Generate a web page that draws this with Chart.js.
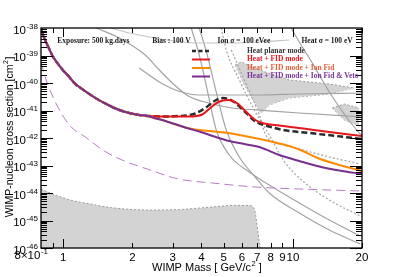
<!DOCTYPE html>
<html>
<head>
<meta charset="utf-8">
<script src="https://cdn.jsdelivr.net/npm/chart.js@4.4.1/dist/chart.umd.min.js"></script>
<style>
  html, body { margin: 0; padding: 0; background: #fff; }
  canvas { display: block; }
</style>
</head>
<body>
<canvas id="limitChart" width="407" height="277"></canvas>
<script>
// ---- data: [WIMP mass (GeV/c^2), cross section (cm^2)] ----
const lowMassBranch = [
  [0.8, 1e-38], [0.818, 5.34e-39], [0.843, 2.97e-39], [0.869, 1.72e-39], [0.896, 1e-39],
  [0.942, 5.34e-40], [1.0, 2.85e-40], [1.062, 1.65e-40], [1.117, 1e-40], [1.234, 5.34e-41],
  [1.392, 2.73e-41], [1.586, 1.52e-41], [1.754, 1.04e-41], [1.939, 8.11e-42], [2.143, 6.86e-42]
];
const heatPlanarHigh = [
  [2.369, 6.31e-42], [2.754, 6.05e-42], [3.201, 6.31e-42], [3.538, 6.86e-42], [3.758, 7.78e-42],
  [4.154, 1.23e-41], [4.592, 2.31e-41], [4.976, 2.85e-41], [5.447, 2.22e-41], [6.022, 1.13e-41],
  [6.657, 4.91e-42], [6.999, 3.66e-42], [7.892, 2.62e-42], [9.084, 1.95e-42], [11.79, 1.52e-42],
  [15.45, 1.18e-42], [20, 9.2e-43]
];
const heatFidHigh = [
  [2.369, 6.31e-42], [2.895, 6.05e-42], [3.538, 6.05e-42], [4.031, 7.16e-42], [4.368, 1.23e-41],
  [4.732, 2.04e-41], [5.232, 2.41e-41], [5.783, 1.72e-41], [6.206, 9.59e-42], [6.860, 4.51e-42],
  [7.506, 3.37e-42], [8.727, 2.85e-42], [11.10, 2.22e-42], [14.41, 1.65e-42], [20, 1.18e-42]
];
const ionFidHigh = [
  [2.275, 6.58e-42], [2.490, 5.34e-42], [2.782, 4.15e-42], [3.400, 2.41e-42], [3.912, 1.95e-42],
  [4.547, 1.72e-42], [5.232, 1.52e-42], [6.144, 1.18e-42], [6.999, 9.59e-43], [8.215, 7.16e-43],
  [9.645, 5.12e-43], [10.66, 3.82e-43], [13.16, 1.72e-43], [15.93, 1.04e-43], [20, 6.31e-44]
];
const vetoHigh = [
  [2.275, 6.58e-42], [2.490, 5.34e-42], [2.782, 4.15e-42], [3.400, 2.41e-42], [4.031, 1.58e-42],
  [4.547, 1.13e-42], [5.284, 7.78e-43], [6.144, 6.05e-43], [7.141, 4.71e-43], [8.727, 2.41e-43],
  [10.66, 1.46e-43], [13.03, 9.2e-44], [15.93, 6.58e-44], [20, 4.91e-44]
];
const projectedDashed = [
  [0.8, 5.34e-40], [0.852, 1e-40], [0.942, 1.46e-41], [1.073, 2.73e-42], [1.247, 1.09e-42],
  [1.509, 3.37e-43], [1.844, 1.46e-43], [2.322, 7.46e-44], [3.169, 3.23e-44], [4.456, 2.31e-44],
  [6.860, 1.65e-44], [10.66, 1.40e-44], [20, 1.18e-44]
];
const lowerRegion = [
  [0.8, 1.40e-44], [0.878, 1e-44], [1.073, 5.56e-45], [1.311, 3.98e-45], [1.602, 2.97e-45],
  [2.322, 2.41e-45], [3.201, 2.51e-45], [4.456, 3.10e-45], [5.613, 3.57e-45], [6.459, 3.51e-45],
  [6.792, 2.62e-45], [6.927, 1.13e-45], [7.07, 2.97e-46], [7.211, 1e-46]
];
const islandTop = [
  [5.613, 4.51e-40], [5.963, 5.81e-40], [7.141, 2.97e-40], [9.645, 1.29e-40], [14.41, 9.2e-41], [18.51, 6.58e-41]
];
const islandBottom = [
  [5.613, 4.51e-40], [6.144, 8.46e-41], [6.792, 2.04e-41], [7.284, 8.11e-42], [7.892, 1.58e-41],
  [9.645, 2.85e-41], [14.41, 3.98e-41], [18.51, 6.58e-41]
];
const cornerTop = [[14.84, 1.23e-41], [16.75, 1.72e-41], [19.46, 1.23e-41]];
const cornerBottom = [[14.84, 1.23e-41], [16.75, 4.51e-42], [19.46, 2.73e-42]];

const otherLimitsSolid = [
  [[1.618, 1e-38], [1.939, 6.58e-39], [2.369, 4.71e-39], [3.043, 3.37e-39], [3.912, 2.85e-39],
   [5.284, 2.85e-39], [7.141, 3.10e-39], [9.645, 3.66e-39]],
  [[1.392, 1e-38], [1.754, 4.33e-39], [2.275, 1.04e-39], [2.619, 2.97e-40], [2.984, 1e-40],
   [3.503, 3.37e-41], [4.281, 1.87e-41], [5.447, 1.23e-41], [7.141, 1.04e-41], [10.66, 8.11e-42], [20, 5.81e-42]],
  [[2.143, 3.51e-40], [2.619, 1.09e-40], [3.169, 5.12e-41], [3.912, 3.66e-41], [6.999, 3.66e-41],
   [10.66, 3.98e-41], [20, 4.33e-41]],
  [[3.610, 1e-38], [3.912, 1.04e-39], [4.238, 5.56e-41], [4.638, 1.95e-42], [5.284, 2.41e-43],
   [6.459, 5.81e-44], [7.892, 1.95e-44], [10.66, 4.33e-45], [14.41, 1.04e-45], [19.66, 2.73e-46]],
  [[3.912, 1e-38], [4.238, 1.04e-39], [4.638, 4.71e-41], [5.128, 1.95e-42], [5.844, 2.04e-43],
   [6.792, 4.15e-44], [7.892, 1e-44], [10.66, 1.87e-45], [14.41, 4.51e-46], [19.66, 1.40e-46]],
  [[9.84, 1e-38], [10.66, 3.10e-39], [11.79, 8.11e-40], [13.03, 1.95e-40], [14.41, 4.71e-41],
   [15.93, 1.34e-41], [17.61, 4.15e-42], [20, 1.18e-42]]
];
const otherLimitsDotted = [
  [[4.877, 1e-38], [5.128, 1.58e-39], [5.844, 1.29e-40], [6.792, 1.04e-41], [7.892, 1.29e-42],
   [9.084, 1.58e-43], [10.66, 3.51e-44], [14.41, 5.56e-45], [19.66, 1.46e-45]],
  [[5.392, 1.58e-39], [6.144, 1.29e-40], [7.141, 6.86e-42], [7.655, 1.18e-42], [9.174, 5.56e-43],
   [10.66, 3.98e-43], [14.41, 2.04e-43], [19.66, 1.13e-43]]
];

const yTickExponents = [-38, -39, -40, -41, -42, -43, -44, -45, -46];
const xTickLabels = [[1, '1'], [2, '2'], [3, '3'], [4, '4'], [5, '5'], [6, '6'], [7, '7'],
                     [8, '8'], [9, '9'], [10, '10'], [20, '20']];
const xMinorTicks = [0.9, 2, 3, 4, 5, 6, 7, 8, 9, 20];
const topTexts = [
  ['Exposure: 500 kg.days', 0.942], ['Bias : 100 V', 2.44], ['Ion \u03c3 = 100 eVee', 4.7], ['Heat \u03c3 = 100 eV', 10.9]
];
const legendItems = [
  ['Heat planar mode', '#2b2b2b', '#333333', [4, 2.5], 2.5],
  ['Heat + FID mode', '#e3171c', '#e3171c', [], 2],
  ['Heat + FID mode + Ion Fid', '#ff8a00', '#e2603a', [], 2],
  ['Heat + FID mode + Ion Fid & Veto', '#7a2e8e', '#7a3396', [], 2]
];

// ---- chart ----
const GREY = '#a3a3a3';
const SHADE = '#d3d3d3';

function series(points, style) {
  return Object.assign({
    data: points.map(([x, y]) => ({ x, y })),
    showLine: true,
    pointRadius: 0,
    borderWidth: 1.2,
    fill: false,
    cubicInterpolationMode: 'monotone',
    clip: 0
  }, style);
}

const datasets = [
  series(lowMassBranch.concat(vetoHigh), { borderColor: '#7a2e8e', borderWidth: 2 }),
  series(lowMassBranch.concat(ionFidHigh), { borderColor: '#ff8a00', borderWidth: 2 }),
  series(lowMassBranch.concat(heatFidHigh), { borderColor: '#e3171c', borderWidth: 2 }),
  series(lowMassBranch.concat(heatPlanarHigh), { borderColor: '#2b2b2b', borderWidth: 2.5, borderDash: [6, 3] }),
  series(projectedDashed, { borderColor: '#b57cc2', borderWidth: 1, borderDash: [9, 5] }),
];
otherLimitsSolid.forEach((pts, i) => {
  datasets.push(series(pts, { borderColor: i === 0 ? '#c4c4c4' : GREY }));
});
otherLimitsDotted.forEach((pts) => {
  datasets.push(series(pts, { borderColor: GREY, borderDash: [2, 2] }));
});
datasets.push(
  series(islandTop, { borderColor: '#9a9a9a', borderWidth: 1, borderDash: [2, 2], fill: '+1', backgroundColor: SHADE, cubicInterpolationMode: 'default', tension: 0 }),
  series(islandBottom, { borderColor: '#9a9a9a', borderWidth: 1, borderDash: [2, 2], cubicInterpolationMode: 'default', tension: 0 }),
  series(cornerTop, { borderColor: '#9a9a9a', borderWidth: 1, borderDash: [2, 2], fill: '+1', backgroundColor: SHADE, cubicInterpolationMode: 'default', tension: 0 }),
  series(cornerBottom, { borderColor: '#9a9a9a', borderWidth: 1, borderDash: [2, 2], cubicInterpolationMode: 'default', tension: 0 }),
  series(lowerRegion, { borderColor: '#9a9a9a', borderWidth: 1, borderDash: [2, 2], fill: 'start', backgroundColor: SHADE })
);

function drawPow(ctx, base, exp, xRight, yTick, baseSize) {
  ctx.font = baseSize + 'px "Liberation Sans", Arial, sans-serif';
  const wb = ctx.measureText(base).width;
  ctx.font = '8px "Liberation Sans", Arial, sans-serif';
  const we = ctx.measureText(exp).width;
  const x0 = xRight - wb - we - 0.5;
  ctx.font = baseSize + 'px "Liberation Sans", Arial, sans-serif';
  ctx.fillText(base, x0, yTick + 5.5);
  ctx.font = '8px "Liberation Sans", Arial, sans-serif';
  ctx.fillText(exp, x0 + wb + 0.5, yTick + 0.5);
}

const decorations = {
  id: 'decorations',
  afterDraw(chart) {
    const { ctx, chartArea: a, scales: { x, y } } = chart;
    ctx.save();
    ctx.strokeStyle = '#000';
    ctx.lineWidth = 1;
    ctx.beginPath();
    for (let e = -46; e < -38; e++) {
      for (let k = 1; k <= 9; k++) {
        const py = Math.round(y.getPixelForValue(k * Math.pow(10, e))) + 0.5;
        const len = k === 1 ? 12 : 6;
        ctx.moveTo(a.left, py); ctx.lineTo(a.left + len, py);
        ctx.moveTo(a.right, py); ctx.lineTo(a.right - len, py);
      }
    }
    [1, 10].concat(xMinorTicks).forEach((v) => {
      const px = Math.round(x.getPixelForValue(v)) + 0.5;
      const len = (v === 1 || v === 10) ? 9 : 5;
      ctx.moveTo(px, a.bottom); ctx.lineTo(px, a.bottom - len);
      ctx.moveTo(px, a.top); ctx.lineTo(px, a.top + len);
    });
    ctx.stroke();
    ctx.lineWidth = 1.3;
    ctx.strokeRect(a.left, a.top, a.right - a.left, a.bottom - a.top);

    // tick labels
    ctx.fillStyle = '#000';
    ctx.textBaseline = 'alphabetic';
    ctx.textAlign = 'left';
    yTickExponents.forEach((e) => {
      drawPow(ctx, '10', String(e), a.left - 3, y.getPixelForValue(Math.pow(10, e)), 11.5);
    });
    drawPow(ctx, '8\u00d710', '-1', 48, a.bottom + 5.5, 11.5);
    ctx.font = '11.5px "Liberation Sans", Arial, sans-serif';
    ctx.textAlign = 'center';
    xTickLabels.forEach(([v, t]) => {
      ctx.fillText(t, x.getPixelForValue(v), a.bottom + 13);
    });

    // axis titles
    ctx.textAlign = 'left';
    ctx.font = '11px "Liberation Sans", Arial, sans-serif';
    let tx = 152;
    const ty = 271;
    ctx.fillText('WIMP Mass [ GeV/c', tx, ty);
    tx += ctx.measureText('WIMP Mass [ GeV/c').width + 0.5;
    ctx.font = '7.5px "Liberation Sans", Arial, sans-serif';
    ctx.fillText('2', tx, ty - 5);
    tx += ctx.measureText('2').width;
    ctx.font = '11px "Liberation Sans", Arial, sans-serif';
    ctx.fillText(' ]', tx, ty);

    ctx.save();
    ctx.translate(12.5, 137);
    ctx.rotate(-Math.PI / 2);
    ctx.font = '10.5px "Liberation Sans", Arial, sans-serif';
    const t1 = 'WIMP-nucleon cross section [cm';
    const w1 = ctx.measureText(t1).width;
    ctx.font = '7px "Liberation Sans", Arial, sans-serif';
    const w2 = ctx.measureText('2').width;
    ctx.font = '10.5px "Liberation Sans", Arial, sans-serif';
    const w3 = ctx.measureText(']').width;
    let rx = -(w1 + w2 + w3 + 1) / 2;
    ctx.fillText(t1, rx, 0);
    rx += w1 + 0.5;
    ctx.font = '7px "Liberation Sans", Arial, sans-serif';
    ctx.fillText('2', rx, -5);
    rx += w2 + 0.5;
    ctx.font = '10.5px "Liberation Sans", Arial, sans-serif';
    ctx.fillText(']', rx, 0);
    ctx.restore();

    // in-plot labels
    ctx.font = 'bold 7.5px "Liberation Serif", "Times New Roman", serif';
    ctx.fillStyle = '#1a1a1a';
    ctx.textBaseline = 'middle';
    topTexts.forEach(([t, m]) => {
      ctx.fillText(t, x.getPixelForValue(m), 41.5);
    });

    // legend
    legendItems.forEach(([label, lineColor, textColor, dash, width], i) => {
      const ly = 51 + i * 8.5;
      ctx.beginPath();
      ctx.setLineDash(dash);
      ctx.strokeStyle = lineColor;
      ctx.lineWidth = width;
      ctx.moveTo(192, ly); ctx.lineTo(210, ly);
      ctx.stroke();
      ctx.setLineDash([]);
      ctx.fillStyle = textColor;
      ctx.fillText(label, 247, ly);
    });
    ctx.restore();
  }
};

new Chart(document.getElementById('limitChart'), {
  type: 'scatter',
  data: { datasets },
  options: {
    responsive: false,
    animation: false,
    events: [],
    layout: { padding: { top: 28, right: 45, left: 0, bottom: 0 } },
    plugins: { legend: { display: false }, tooltip: { enabled: false } },
    scales: {
      x: {
        type: 'logarithmic', min: 0.8, max: 20,
        grid: { display: false }, border: { display: false },
        ticks: { display: false },
        afterFit: (s) => { s.height = 29; }
      },
      y: {
        type: 'logarithmic', min: 1e-46, max: 1e-38,
        grid: { display: false }, border: { display: false },
        ticks: { display: false },
        afterFit: (s) => { s.width = 41; }
      }
    }
  },
  plugins: [decorations]
});
</script>
</body>
</html>
